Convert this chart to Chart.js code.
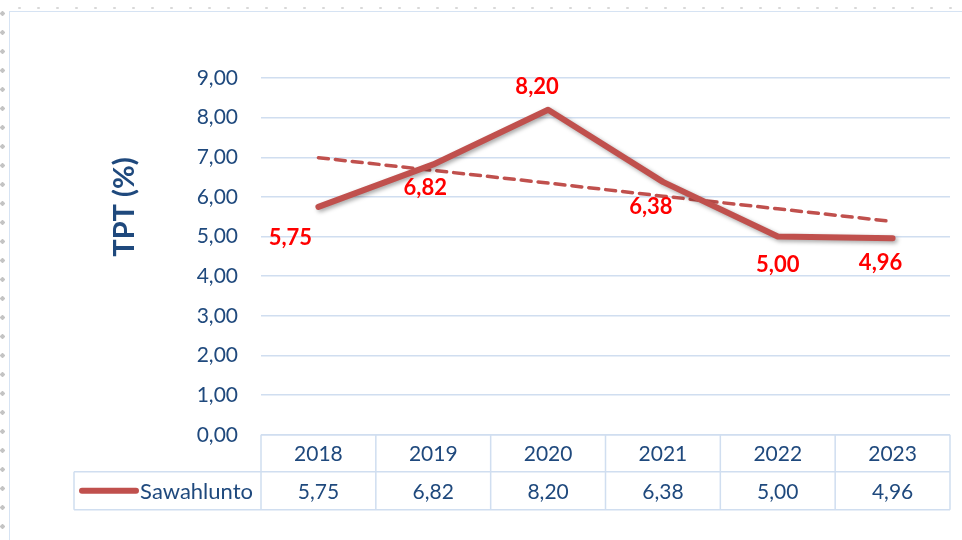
<!DOCTYPE html>
<html>
<head>
<meta charset="utf-8">
<script src="https://cdn.jsdelivr.net/npm/chart.js@4/dist/chart.umd.min.js"></script>
<style>
    html, body { margin: 0; padding: 0; background: #ffffff; }
    #wrap { position: relative; width: 962px; height: 540px; overflow: hidden; }
    /* ruler dots of the screenshot */
    #rulerLeft { position: absolute; left: 0; top: 0; width: 5px; height: 540px;
        background-image: radial-gradient(circle, #c4c4c4 2px, transparent 2.4px);
        background-size: 5px 19px; background-position: 0 4px; }
    #rulerTop { position: absolute; left: 10px; top: 6px; width: 952px; height: 4px;
        background-image: radial-gradient(circle, #d8d8d8 1px, transparent 1.5px);
        background-size: 19px 4px; }
    #frame { position: absolute; left: 9px; top: 11px; width: 980px; height: 560px;
        border: 1px solid #d6e3f3; box-sizing: border-box; }
    #c { position: absolute; left: 0; top: 0; }
</style>
</head>
<body>
<div id="wrap">
    <div id="rulerLeft"></div>
    <div id="rulerTop"></div>
    <div id="frame"></div>
    <canvas id="c" width="962" height="540"></canvas>
</div>
<script>
// データ
const years = ['2018', '2019', '2020', '2021', '2022', '2023'];
const tptSawahlunto = [5.75, 6.82, 8.20, 6.38, 5.00, 4.96];
const trendValues = [6.99, 6.67, 6.35, 6.02, 5.70, 5.38];
const seriesName = 'Sawahlunto';
const axisTitle = 'TPT (%)';

const NAVY = '#1f497d';
const RED_LINE = '#c0504d';
const GRID = '#d0def0';
const FONT = "Lato, 'Open Sans', sans-serif";

const fmt = v => v.toFixed(2).replace('.', ',');

// データラベル（赤字）
const dataLabelPlugin = {
    id: 'dataLabels',
    afterDatasetsDraw(chart, args, opts) {
        const ctx = chart.ctx;
        const meta = chart.getDatasetMeta(0);
        ctx.save();
        ctx.font = 'bold 22px ' + FONT;
        ctx.fillStyle = '#ff0000';
        ctx.textAlign = 'center';
        ctx.textBaseline = 'middle';
        meta.data.forEach((pt, i) => {
            const off = opts.offsets[i];
            ctx.fillText(fmt(tptSawahlunto[i]), pt.x + off[0], pt.y + off[1]);
        });
        ctx.restore();
    }
};

// Y軸タイトル（軸中央より上に配置）
const axisTitlePlugin = {
    id: 'axisTitle',
    afterDraw(chart, args, opts) {
        const ctx = chart.ctx;
        ctx.save();
        ctx.translate(opts.x, opts.y);
        ctx.rotate(-Math.PI / 2);
        ctx.font = 'bold 29px ' + FONT;
        ctx.fillStyle = NAVY;
        ctx.textAlign = 'center';
        ctx.textBaseline = 'middle';
        ctx.fillText(axisTitle, 0, 0);
        ctx.restore();
    }
};

// 線の影
const shadowPlugin = {
    id: 'lineShadow',
    beforeDatasetDraw(chart, args) {
        if (args.index !== 0) return;
        const ctx = chart.ctx;
        ctx.save();
        ctx.shadowColor = 'rgba(0, 0, 0, 0.35)';
        ctx.shadowBlur = 4;
        ctx.shadowOffsetX = 2;
        ctx.shadowOffsetY = 2;
    },
    afterDatasetDraw(chart, args) {
        if (args.index !== 0) return;
        chart.ctx.restore();
    }
};

// データテーブル
const dataTablePlugin = {
    id: 'dataTable',
    afterDraw(chart, args, opts) {
        const ctx = chart.ctx;
        const x = chart.scales.x;
        const area = chart.chartArea;
        const top = area.bottom;
        const mid = top + opts.headerHeight;
        const bottom = mid + opts.rowHeight;
        const left = area.left;
        const right = area.right;
        const step = (right - left) / years.length;

        ctx.save();
        ctx.strokeStyle = GRID;
        ctx.lineWidth = 1.5;
        ctx.beginPath();
        ctx.moveTo(left, top); ctx.lineTo(right, top);
        ctx.moveTo(opts.labelLeft, mid); ctx.lineTo(right, mid);
        ctx.moveTo(opts.labelLeft, bottom); ctx.lineTo(right, bottom);
        ctx.moveTo(opts.labelLeft, mid); ctx.lineTo(opts.labelLeft, bottom);
        for (let i = 0; i <= years.length; i++) {
            const xx = left + step * i;
            ctx.moveTo(xx, top); ctx.lineTo(xx, bottom);
        }
        ctx.stroke();

        // 値
        ctx.fillStyle = NAVY;
        ctx.font = '21px ' + FONT;
        ctx.textAlign = 'center';
        ctx.textBaseline = 'middle';
        tptSawahlunto.forEach((v, i) => {
            ctx.fillText(fmt(v), x.getPixelForValue(i), (mid + bottom) / 2 + 1);
        });

        // 凡例キー
        const ky = (mid + bottom) / 2;
        ctx.strokeStyle = RED_LINE;
        ctx.lineWidth = 6;
        ctx.lineCap = 'round';
        ctx.beginPath();
        ctx.moveTo(opts.labelLeft + 8, ky);
        ctx.lineTo(opts.labelLeft + 62, ky);
        ctx.stroke();
        ctx.font = '22px ' + FONT;
        ctx.textAlign = 'right';
        ctx.fillText(seriesName, left - 8, ky + 1);
        ctx.restore();
    }
};

new Chart(document.getElementById('c'), {
    type: 'line',
    data: {
        labels: years,
        datasets: [
            {
                label: seriesName,
                data: tptSawahlunto,
                borderColor: RED_LINE,
                borderWidth: 6,
                borderJoinStyle: 'round',
                borderCapStyle: 'round',
                pointRadius: 0,
                tension: 0,
                order: 1
            },
            {
                label: 'Linear (' + seriesName + ')',
                data: trendValues,
                borderColor: RED_LINE,
                borderWidth: 3.5,
                borderDash: [10, 7],
                borderCapStyle: 'round',
                pointRadius: 0,
                tension: 0,
                order: 2
            }
        ]
    },
    options: {
        responsive: false,
        animation: false,
        events: [],
        layout: {
            padding: { left: 150, right: 12, top: 78, bottom: 66 }
        },
        plugins: {
            legend: { display: false },
            tooltip: { enabled: false },
            dataLabels: {
                offsets: [[-28, 31], [-8, 23], [-11, -23], [-12, 25], [0, 28], [-12, 25]]
            },
            axisTitle: { x: 125, y: 207 },
            dataTable: { headerHeight: 37, rowHeight: 38, labelLeft: 74 }
        },
        scales: {
            x: {
                offset: true,
                border: { display: false },
                grid: { display: false, drawTicks: false },
                ticks: {
                    color: NAVY,
                    padding: 7,
                    font: { size: 21, family: FONT }
                }
            },
            y: {
                min: 0,
                max: 9,
                border: { display: false },
                grid: { color: GRID, lineWidth: 1.5, drawTicks: false },
                ticks: {
                    stepSize: 1,
                    color: NAVY,
                    padding: 23,
                    font: { size: 21, family: FONT },
                    callback: v => fmt(v)
                },
                afterFit: scale => { scale.width = 111; }
            }
        }
    },
    plugins: [shadowPlugin, dataLabelPlugin, dataTablePlugin, axisTitlePlugin]
});
</script>
</body>
</html>
